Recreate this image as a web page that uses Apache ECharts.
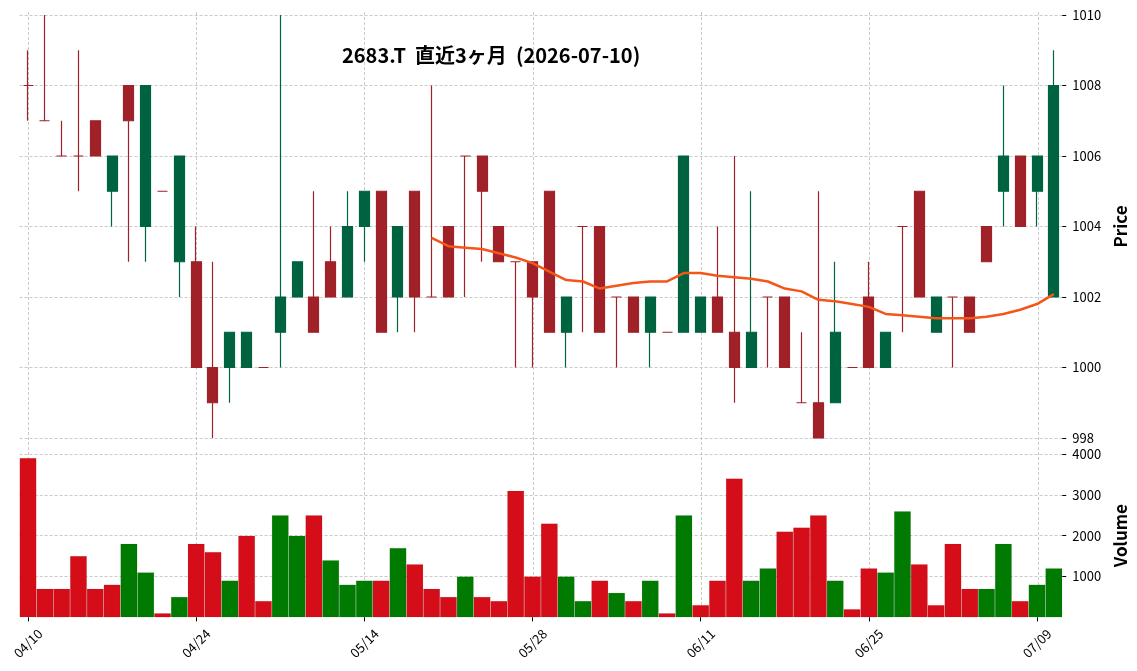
<!DOCTYPE html>
<html>
<head>
<meta charset="utf-8">
<title>2683.T</title>
<script src="https://cdn.jsdelivr.net/npm/echarts@6/dist/echarts.min.js"></script>
<style>
  html, body { margin: 0; padding: 0; background: #fff; }
  #chart { width: 1137px; height: 671px; }
</style>
</head>
<body>
<div id="chart"></div>
<script>
// 日付 (営業日)
const dates = [
  '04/10', '04/13', '04/14', '04/15', '04/16', '04/17', '04/20', '04/21', '04/22', '04/23',
  '04/24', '04/27', '04/28', '04/30', '05/01', '05/07', '05/08', '05/11', '05/12', '05/13',
  '05/14', '05/15', '05/18', '05/19', '05/20', '05/21', '05/22', '05/25', '05/26', '05/27',
  '05/28', '05/29', '06/01', '06/02', '06/03', '06/04', '06/05', '06/08', '06/09', '06/10',
  '06/11', '06/12', '06/15', '06/16', '06/17', '06/18', '06/19', '06/22', '06/23', '06/24',
  '06/25', '06/26', '06/29', '06/30', '07/01', '07/02', '07/03', '07/06', '07/07', '07/08',
  '07/09', '07/10'
]
const opens = [
  1008, 1007, 1006, 1006, 1007, 1005, 1008, 1004, 1005, 1003,
  1003, 1000, 1000, 1000, 1000, 1001, 1002, 1002, 1003, 1002,
  1004, 1005, 1002, 1005, 1002, 1004, 1006, 1006, 1004, 1003,
  1003, 1005, 1001, 1004, 1004, 1002, 1002, 1001, 1001, 1001,
  1001, 1002, 1001, 1000, 1002, 1002, 999, 999, 999, 1000,
  1002, 1000, 1004, 1005, 1001, 1002, 1002, 1004, 1005, 1006,
  1005, 1002
]
const closes = [
  1008, 1007, 1006, 1006, 1006, 1006, 1007, 1008, 1005, 1006,
  1000, 999, 1001, 1001, 1000, 1002, 1003, 1001, 1002, 1004,
  1005, 1001, 1004, 1002, 1002, 1002, 1006, 1005, 1003, 1003,
  1002, 1001, 1002, 1004, 1001, 1002, 1001, 1002, 1001, 1006,
  1002, 1001, 1000, 1001, 1002, 1000, 999, 998, 1001, 1000,
  1000, 1001, 1004, 1002, 1002, 1002, 1001, 1003, 1006, 1004,
  1006, 1008
]
const lows = [
  1007, 1007, 1006, 1005, 1006, 1004, 1003, 1003, 1005, 1002,
  1000, 998, 999, 1000, 1000, 1000, 1002, 1001, 1002, 1002,
  1003, 1001, 1001, 1001, 1002, 1002, 1002, 1003, 1003, 1000,
  1000, 1001, 1000, 1001, 1001, 1000, 1001, 1000, 1001, 1001,
  1001, 1001, 999, 1000, 1000, 1000, 999, 998, 999, 1000,
  1000, 1000, 1001, 1002, 1001, 1000, 1001, 1003, 1004, 1004,
  1004, 1002
]
const highs = [
  1009, 1010, 1007, 1009, 1007, 1006, 1008, 1008, 1005, 1006,
  1004, 1003, 1001, 1001, 1000, 1010, 1003, 1005, 1004, 1005,
  1005, 1005, 1004, 1005, 1008, 1004, 1006, 1006, 1004, 1003,
  1003, 1005, 1002, 1004, 1004, 1002, 1002, 1002, 1001, 1006,
  1002, 1004, 1006, 1005, 1002, 1002, 1001, 1005, 1003, 1000,
  1003, 1001, 1004, 1005, 1002, 1002, 1002, 1004, 1008, 1006,
  1006, 1009
]
const volumes = [
  3900, 700, 700, 1500, 700, 800, 1800, 1100, 100, 500,
  1800, 1600, 900, 2000, 400, 2500, 2000, 2500, 1400, 800,
  900, 900, 1700, 1300, 700, 500, 1000, 500, 400, 3100,
  1000, 2300, 1000, 400, 900, 600, 400, 900, 100, 2500,
  300, 900, 3400, 900, 1200, 2100, 2200, 2500, 900, 200,
  1200, 1100, 2600, 1300, 300, 1800, 700, 700, 1800, 400,
  800, 1200
]
const priceTicks = [998, 1000, 1002, 1004, 1006, 1008, 1010]
const volumeTicks = [1000, 2000, 3000, 4000]
const maPeriod = 25

const UP = '#006340'
const DOWN = '#a02128'
const VOL_UP = '#007a00'
const VOL_DOWN = '#d50d18'
const GRID_LINE = { color: '#bdbdbd', type: [3, 2], width: 0.8 }
const FONT = 'Noto Sans CJK JP'

// ローソク足 (同値は赤)
const candleData = dates.map((d, i) => {
  const item = { value: [opens[i], closes[i], lows[i], highs[i]] }
  if (opens[i] === closes[i]) {
    item.itemStyle = { color: DOWN, color0: DOWN, borderColor: DOWN, borderColor0: DOWN }
  }
  return item
})

// 出来高 (前日終値比で色分け)
const volumeData = volumes.map((v, i) => ({
  value: v,
  itemStyle: { color: i > 0 && closes[i] > closes[i - 1] ? VOL_UP : VOL_DOWN }
}))

// 25日移動平均
const maData = closes.map((c, i) => {
  if (i < maPeriod - 1) return '-'
  let sum = 0
  for (let k = i - maPeriod + 1; k <= i; k++) sum += closes[k]
  return +(sum / maPeriod).toFixed(3)
})

const band = 16.83
const plotLeft = 19.6
const plotWidth = band * dates.length
const plain = v => String(v)

const chart = echarts.init(document.getElementById('chart'))
chart.setOption({
  animation: false,
  backgroundColor: '#fff',
  textStyle: { fontFamily: FONT },
  title: {
    text: '2683.T  直近3ヶ月  (2026-07-10)',
    left: 337,
    top: 40,
    textStyle: { fontFamily: FONT, fontSize: 20, fontWeight: 'bold', color: '#000' }
  },
  grid: [
    { left: plotLeft, width: plotWidth, top: 15, height: 423 },
    { left: plotLeft, width: plotWidth, top: 454, height: 163.3 },
    // 縦の補助線だけ描く背景用
    { left: plotLeft + band / 2, width: plotWidth - band, top: 12, height: 605 }
  ],
  xAxis: [
    {
      type: 'category', gridIndex: 0, data: dates, boundaryGap: true,
      axisLine: { show: false }, axisTick: { show: false },
      axisLabel: { show: false }, splitLine: { show: false }
    },
    {
      type: 'category', gridIndex: 1, data: dates, boundaryGap: true,
      axisLine: { show: false },
      axisTick: { show: true, alignWithLabel: true, interval: 9, length: 4, lineStyle: { color: '#000', width: 1 } },
      axisLabel: {
        interval: 9, rotate: 45, margin: 26, fontSize: 13, color: '#000', fontFamily: FONT,
        align: 'center', verticalAlign: 'middle'
      },
      splitLine: { show: false }
    },
    {
      type: 'value', gridIndex: 2, min: 0, max: dates.length - 1, interval: 10,
      axisLine: { show: false }, axisTick: { show: false }, axisLabel: { show: false },
      splitLine: { show: true, showMinLine: true, showMaxLine: false, lineStyle: GRID_LINE }
    }
  ],
  yAxis: [
    {
      type: 'value', gridIndex: 0, position: 'right',
      min: priceTicks[0], max: priceTicks[priceTicks.length - 1], interval: 2,
      axisLine: { show: false },
      axisTick: { show: true, length: 4, lineStyle: { color: '#000' } },
      axisLabel: { fontSize: 13, color: '#000', margin: 10, fontFamily: FONT, formatter: plain },
      splitLine: { show: true, lineStyle: GRID_LINE },
      name: 'Price', nameLocation: 'middle', nameRotate: 90, nameGap: 49,
      nameTextStyle: { fontSize: 17, fontWeight: 'bold', color: '#000', fontFamily: FONT }
    },
    {
      type: 'value', gridIndex: 1, position: 'right',
      min: 0, max: volumeTicks[volumeTicks.length - 1], interval: 1000,
      axisLine: { show: false },
      axisTick: { show: true, length: 4, lineStyle: { color: '#000' }, customValues: volumeTicks },
      axisLabel: { fontSize: 13, color: '#000', margin: 10, fontFamily: FONT, formatter: plain, customValues: volumeTicks },
      splitLine: { show: true, lineStyle: GRID_LINE },
      name: 'Volume', nameLocation: 'middle', nameRotate: 90, nameGap: 49,
      nameTextStyle: { fontSize: 17, fontWeight: 'bold', color: '#000', fontFamily: FONT }
    },
    {
      type: 'value', gridIndex: 2, min: 0, max: 1,
      axisLine: { show: false }, axisTick: { show: false },
      axisLabel: { show: false }, splitLine: { show: false }
    }
  ],
  series: [
    {
      type: 'candlestick', xAxisIndex: 0, yAxisIndex: 0,
      data: candleData, barWidth: 10.5,
      itemStyle: { color: UP, color0: DOWN, borderColor: UP, borderColor0: DOWN, borderWidth: 1.2 }
    },
    {
      type: 'line', xAxisIndex: 0, yAxisIndex: 0, data: maData,
      showSymbol: false, symbol: 'none', smooth: false,
      lineStyle: { color: '#f4561a', width: 2.5 }
    },
    {
      type: 'bar', xAxisIndex: 1, yAxisIndex: 1, data: volumeData,
      barCategoryGap: '0%',
      itemStyle: { borderColor: 'rgba(0,0,0,0.12)', borderWidth: 0.5 }
    }
  ]
})
</script>
</body>
</html>
